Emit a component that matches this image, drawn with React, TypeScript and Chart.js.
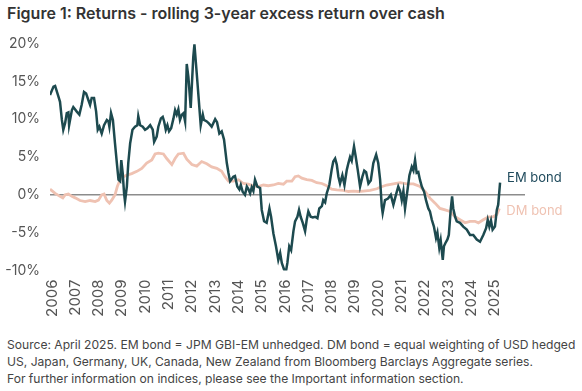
import React, { useEffect, useRef } from "react";
import { Chart, registerables } from "chart.js";

Chart.register(...registerables);

const TITLE = "Figure 1: Returns - rolling 3-year excess return over cash";
const FOOTNOTE = [
  "Source: April 2025. EM bond = JPM GBI-EM unhedged. DM bond = equal weighting of USD hedged",
  "US, Japan, Germany, UK, Canada, New Zealand from Bloomberg Barclays Aggregate series.",
  "For further information on indices, please see the Important information section.",
];
const SERIES_NAMES = ["EM bond", "DM bond"];
const TICK_YEARS = [2006, 2007, 2008, 2009, 2010, 2011, 2012, 2013, 2014, 2015, 2016, 2017, 2018, 2019, 2020, 2021, 2022, 2023, 2024, 2025];
const Y_TICKS = [-10, -5, 0, 5, 10, 15, 20];

const emYears = [
  2005.91, 2006.06, 2006.13, 2006.27, 2006.34, 2006.42, 2006.48, 2006.56, 2006.63, 2006.7, 2006.73, 2006.85, 2006.91,
  2007.06, 2007.17, 2007.27, 2007.37, 2007.46, 2007.56, 2007.63, 2007.7, 2007.8, 2007.89, 2007.96,
  2008.03, 2008.13, 2008.23, 2008.35, 2008.42, 2008.46, 2008.53, 2008.61, 2008.7, 2008.78, 2008.85, 2008.92, 2008.97,
  2009.03, 2009.09, 2009.13, 2009.21, 2009.27, 2009.35, 2009.45, 2009.56, 2009.66, 2009.7, 2009.78, 2009.89, 2009.99,
  2010.09, 2010.21, 2010.32, 2010.38, 2010.49, 2010.56, 2010.67, 2010.75, 2010.81, 2010.88, 2010.95,
  2011.02, 2011.11, 2011.21, 2011.28, 2011.35, 2011.42, 2011.49, 2011.57, 2011.64, 2011.71, 2011.78, 2011.85, 2011.95,
  2012.06, 2012.11, 2012.21, 2012.32, 2012.38, 2012.47, 2012.52, 2012.64, 2012.74, 2012.85,
  2013.0, 2013.08, 2013.18, 2013.28, 2013.38, 2013.5, 2013.57, 2013.64, 2013.78, 2013.85, 2013.95,
  2014.04, 2014.1, 2014.18, 2014.28, 2014.36, 2014.42, 2014.5, 2014.57, 2014.64, 2014.71, 2014.81, 2014.93,
  2015.0, 2015.1, 2015.21, 2015.33, 2015.4, 2015.5, 2015.61, 2015.71, 2015.79, 2015.86, 2015.96,
  2016.04, 2016.1, 2016.18, 2016.26, 2016.36, 2016.43, 2016.53, 2016.6, 2016.67, 2016.76, 2016.86, 2016.93,
  2017.0, 2017.1, 2017.19, 2017.29, 2017.39, 2017.47, 2017.58, 2017.64, 2017.72, 2017.79, 2017.9,
  2018.0, 2018.07, 2018.15, 2018.22, 2018.29, 2018.36, 2018.46, 2018.55, 2018.65, 2018.72, 2018.79, 2018.86, 2018.96,
  2019.03, 2019.12, 2019.22, 2019.32, 2019.4, 2019.48, 2019.58, 2019.68, 2019.79, 2019.91,
  2020.0, 2020.08, 2020.15, 2020.19, 2020.29, 2020.42, 2020.54, 2020.65, 2020.76, 2020.86, 2020.94,
  2021.01, 2021.08, 2021.15, 2021.22, 2021.34, 2021.44, 2021.51, 2021.58, 2021.65, 2021.72, 2021.79, 2021.87, 2021.97,
  2022.05, 2022.15, 2022.22, 2022.3, 2022.39, 2022.48, 2022.54, 2022.62, 2022.68, 2022.77, 2022.82, 2022.88, 2022.97,
  2023.03, 2023.11, 2023.17, 2023.22, 2023.3, 2023.37, 2023.51, 2023.65, 2023.8, 2023.94,
  2024.08, 2024.23, 2024.37, 2024.51, 2024.63, 2024.7, 2024.77, 2024.84, 2024.91,
  2025.01, 2025.09, 2025.15, 2025.23,
];
const emValues = [
  13.2, 14.3, 14.4, 13.0, 12.3, 9.9, 8.6, 9.5, 10.8, 10.9, 9.2, 11.2, 11.6,
  11.0, 10.6, 11.9, 13.6, 13.4, 12.5, 11.9, 12.8, 12.8, 11.0, 8.6,
  9.0, 8.1, 9.2, 9.9, 9.7, 9.0, 10.8, 9.9, 6.8, 4.2, 2.0, 1.8, 4.6,
  2.9, 0.2, -0.9, 1.1, 4.2, 6.8, 8.6, 9.0, 9.2, 10.4, 9.2, 9.0, 8.6,
  8.8, 9.2, 8.6, 7.0, 7.7, 9.0, 10.1, 10.3, 9.7, 8.6, 9.2,
  8.4, 8.8, 10.1, 11.2, 10.6, 11.3, 9.9, 10.6, 10.8, 9.7, 17.3, 15.6, 11.5,
  18.2, 19.9, 16.0, 11.6, 9.2, 10.6, 9.9, 9.7, 9.4, 9.0,
  10.0, 9.6, 8.1, 8.4, 7.3, 4.2, 2.9, 1.8, 2.4, 2.5, 1.1,
  0.7, 1.3, 0.4, 0.0, 1.1, 0.8, 0.2, 1.0, 0.5, 2.0, 1.1, 0.9,
  -2.0, -3.5, -3.7, -1.8, -2.9, -5.1, -6.8, -8.6, -7.7, -9.0, -9.9,
  -10.1, -9.0, -6.8, -7.3, -4.8, -3.5, -2.9, -2.0, -2.9, -3.7, -4.8, -3.3,
  -2.2, -2.9, -3.0, -2.9, -3.1, -1.8, -1.5, -0.7, -1.0, 0.2, 1.3,
  3.3, 4.4, 4.8, 4.0, 2.4, 1.5, 2.6, 1.3, 3.3, 4.2, 5.0, 4.5, 6.4,
  5.1, 3.3, 1.1, 2.4, 3.2, 3.0, 1.5, 1.9, 4.2, 5.3,
  4.2, 2.0, -1.5, -2.4, -0.7, -0.5, 0.0, -1.3, 0.0, 1.1, 0.5,
  -0.7, 0.5, -1.8, -0.2, 2.6, 3.7, 3.2, 4.6, 2.9, 3.0, 2.0, 1.1, 0.4,
  -0.7, -1.8, -2.2, -3.3, -4.2, -5.7, -5.0, -7.0, -6.0, -8.6, -6.8, -6.4, -5.9,
  -5.3, -2.0, -0.2, -1.8, -2.9, -3.5, -3.7, -4.2, -4.6, -5.3,
  -5.3, -5.9, -6.2, -5.3, -4.4, -3.3, -4.2, -3.4, -4.6,
  -4.2, -2.0, -1.3, 1.6,
];

const dmYears = [
  2005.91, 2006.13, 2006.34, 2006.46, 2006.56, 2006.7, 2006.85, 2006.99,
  2007.2, 2007.42, 2007.63, 2007.85, 2007.99,
  2008.13, 2008.23, 2008.35, 2008.46, 2008.56, 2008.7, 2008.8, 2008.92,
  2009.06, 2009.21, 2009.42, 2009.64, 2009.85,
  2010.06, 2010.28, 2010.42, 2010.56, 2010.78, 2010.92,
  2011.14, 2011.28, 2011.42, 2011.64, 2011.78,
  2012.0, 2012.21, 2012.42, 2012.64, 2012.85,
  2013.07, 2013.28, 2013.42, 2013.57, 2013.78,
  2014.0, 2014.21, 2014.42, 2014.64, 2014.85,
  2015.07, 2015.28, 2015.5, 2015.71, 2015.93,
  2016.07, 2016.29, 2016.43, 2016.57, 2016.72, 2016.93,
  2017.15, 2017.36, 2017.58, 2017.79,
  2018.0, 2018.22, 2018.5, 2018.72, 2018.93,
  2019.15, 2019.36, 2019.65, 2019.94,
  2020.08, 2020.36, 2020.65, 2020.94,
  2021.22, 2021.51, 2021.79,
  2022.01, 2022.22, 2022.44, 2022.65, 2022.87,
  2023.08, 2023.3, 2023.51, 2023.73, 2023.94,
  2024.15, 2024.3, 2024.51, 2024.73, 2024.94,
  2025.09, 2025.2,
];
const dmValues = [
  0.75, 0.2, -0.2, -0.4, 0.0, 0.1, -0.2, -0.4,
  -0.75, -0.9, -0.75, -0.9, -0.7,
  0.0, 0.1, -0.75, -1.1, -0.7, 0.0, 1.1, 2.0,
  2.4, 2.6, 2.8, 3.1, 3.5,
  4.2, 4.6, 5.4, 5.5, 5.4, 4.8,
  4.0, 4.8, 5.4, 5.5, 4.7,
  4.0, 3.8, 4.4, 4.1, 3.7,
  3.5, 3.1, 2.4, 1.8, 1.8,
  2.0, 1.5, 1.4, 1.2, 1.1,
  1.3, 1.2, 1.3, 1.5, 1.4,
  1.8, 1.8, 2.4, 2.5, 2.2, 2.0,
  1.9, 1.6, 1.5, 1.2,
  0.75, 0.66, 0.6, 0.44, 0.5,
  0.44, 0.5, 0.6, 0.8,
  1.0, 1.3, 1.45, 1.6,
  1.45, 1.45, 1.1,
  0.44, -0.44, -1.1, -1.8, -2.0,
  -2.2, -2.9, -3.3, -3.7, -3.5,
  -3.5, -3.7, -3.3, -2.9, -2.9,
  -2.6, -1.8,
];

const EM_COLOR = "#1d4a4f";
const DM_COLOR = "#efc2b2";
const EM_LABEL_COLOR = "#1f4a5c";
const FONT = "Inter, 'Noto Sans', sans-serif";

const endLabels = {
  id: "endLabels",
  afterDatasetsDraw(chart: any) {
    const ctx = chart.ctx;
    const offsets = [-5, 3];
    const colors = [EM_LABEL_COLOR, DM_COLOR];
    chart.data.datasets.forEach((ds: any, i: number) => {
      const meta = chart.getDatasetMeta(i);
      const last = meta.data[meta.data.length - 1];
      if (!last) return;
      ctx.save();
      ctx.font = `13px ${FONT}`;
      ctx.fillStyle = colors[i];
      ctx.textAlign = "left";
      ctx.textBaseline = "middle";
      ctx.fillText(SERIES_NAMES[i], last.x + 7, last.y + offsets[i]);
      ctx.restore();
    });
  },
};

export default function App() {
  const ref = useRef<HTMLCanvasElement | null>(null);
  useEffect(() => {
    if (!ref.current) return;
    const chart = new Chart(ref.current, {
      type: "line",
      data: {
        datasets: [
          {
            label: SERIES_NAMES[0],
            data: emYears.map((x, i) => ({ x, y: emValues[i] })),
            borderColor: EM_COLOR,
            borderWidth: 2.5,
            pointRadius: 0,
            tension: 0,
            fill: false,
          },
          {
            label: SERIES_NAMES[1],
            data: dmYears.map((x, i) => ({ x, y: dmValues[i] })),
            borderColor: DM_COLOR,
            borderWidth: 2.8,
            pointRadius: 0,
            tension: 0,
            fill: false,
          },
        ],
      },
      options: {
        animation: false,
        responsive: false,
        layout: { padding: { top: 43.5, right: 57, left: 0, bottom: 0 } },
        plugins: { legend: { display: false }, tooltip: { enabled: false } },
        scales: {
          x: {
            type: "linear",
            min: 2005.91,
            max: 2026.3,
            afterBuildTicks: (scale: any) => {
              scale.ticks = TICK_YEARS.map((v) => ({ value: v }));
            },
            afterFit: (scale: any) => {
              scale.height = 59.5;
            },
            grid: { display: false, drawTicks: false },
            border: { display: false },
            ticks: {
              autoSkip: false,
              minRotation: 90,
              maxRotation: 90,
              padding: 9,
              color: "#555",
              font: { family: FONT, size: 15 },
              callback: (v: any) => String(v),
            },
          },
          y: {
            min: -10,
            max: 20,
            afterBuildTicks: (scale: any) => {
              scale.ticks = Y_TICKS.map((v) => ({ value: v }));
            },
            afterFit: (scale: any) => {
              scale.width = 50;
            },
            grid: {
              drawTicks: false,
              color: (c: any) => (c.tick && c.tick.value === 0 ? "#8c8c8c" : "rgba(0,0,0,0)"),
              lineWidth: (c: any) => (c.tick && c.tick.value === 0 ? 1.5 : 0),
            },
            border: { display: false },
            ticks: {
              padding: 10,
              color: "#555",
              font: { family: FONT, size: 14 },
              callback: (v: any) => `${v}%`,
            },
          },
        },
      },
      plugins: [endLabels],
    });
    return () => chart.destroy();
  }, []);

  return (
    <div style={{ position: "fixed", left: 0, top: 0, width: 582, height: 391, background: "#fff", fontFamily: FONT, overflow: "hidden" }}>
      <div style={{ position: "absolute", left: 7, top: 3, fontSize: 16, fontWeight: 600, color: "#333", whiteSpace: "nowrap" }}>{TITLE}</div>
      <canvas ref={ref} width={582} height={330} style={{ position: "absolute", left: 0, top: 0, width: 582, height: 330 }} />
      <div style={{ position: "absolute", left: 7, top: 336, fontSize: 12.1, lineHeight: "17px", color: "#444", whiteSpace: "nowrap" }}>
        {FOOTNOTE.map((t, i) => (
          <div key={i}>{t}</div>
        ))}
      </div>
    </div>
  );
}
